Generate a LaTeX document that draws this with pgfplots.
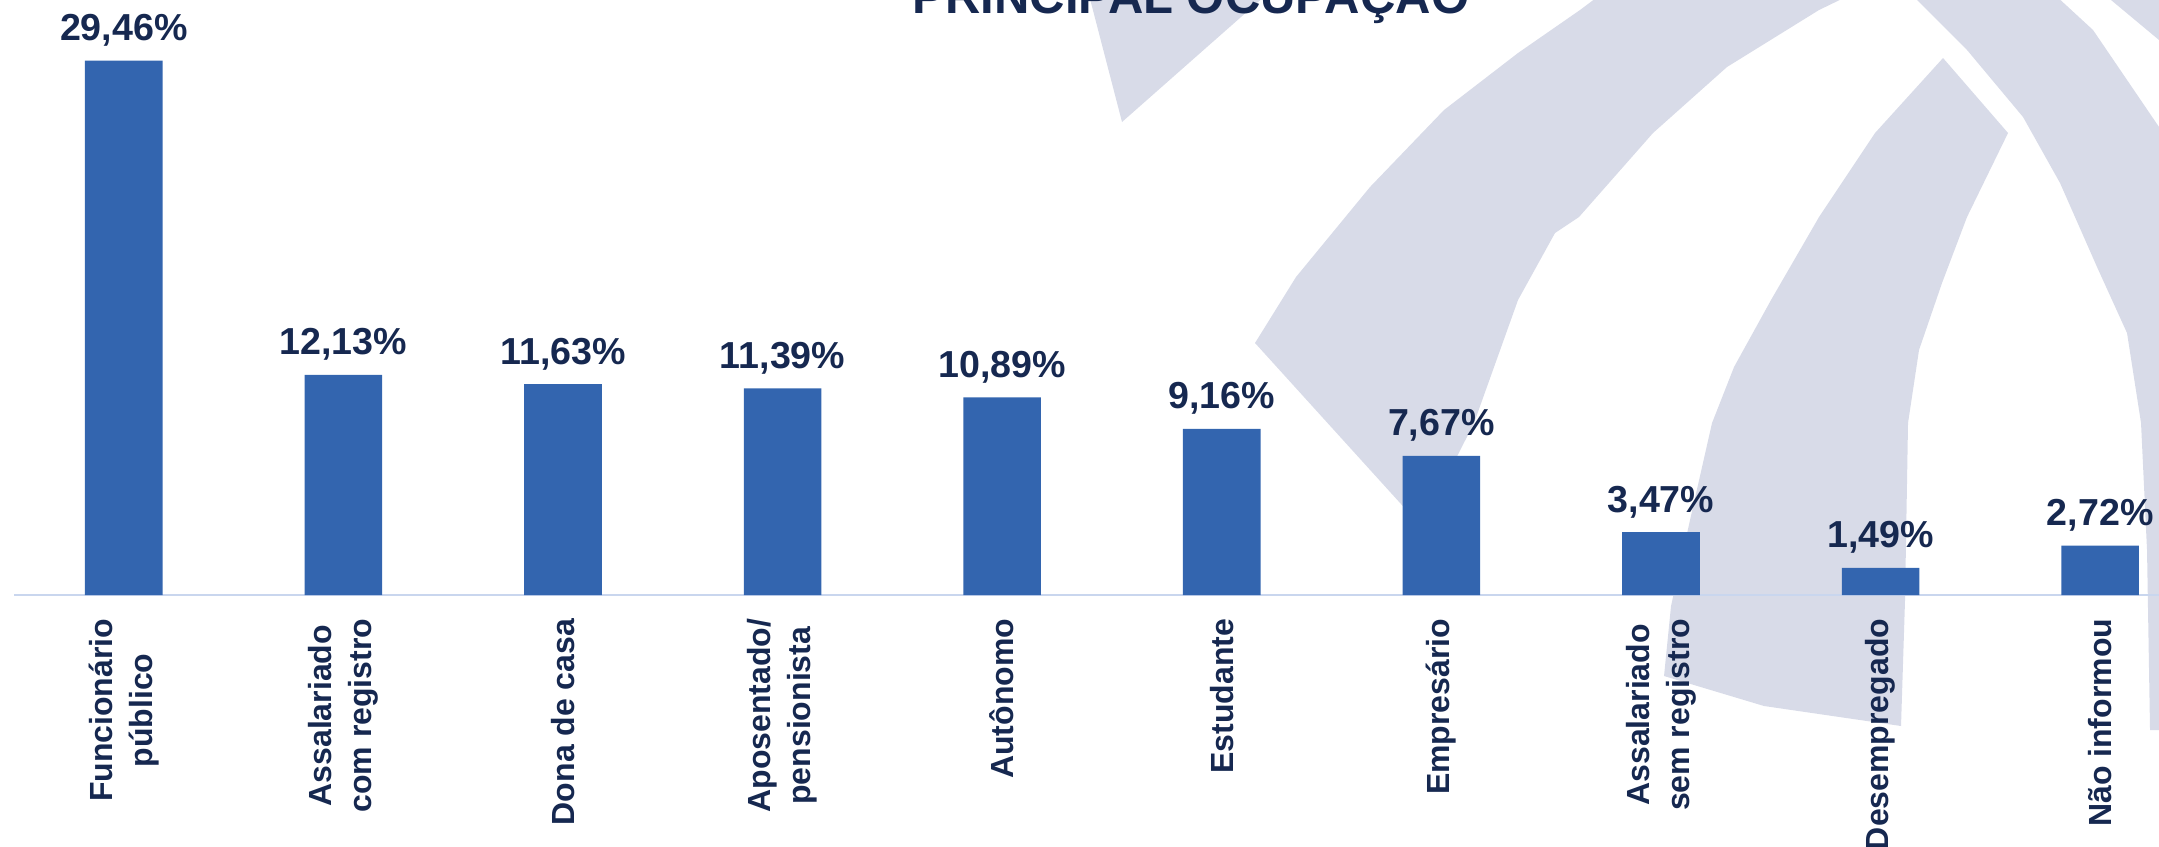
\documentclass[border=0pt]{standalone}
\usepackage{pgfplots}
\pgfplotsset{compat=1.18}
\usepackage{fontspec}
\setmainfont{Liberation Sans}

\definecolor{barblue}{RGB}{51,101,175}
\definecolor{navy}{RGB}{22,40,80}
\definecolor{axisblue}{RGB}{201,214,238}
\definecolor{wm}{RGB}{216,219,232}

\begin{document}
\begin{tikzpicture}
% picture frame: 2159 x 846 px, 1 px = 0.25pt
\useasboundingbox (0,0) rectangle (539.75pt,-211.5pt);
\clip (0,0) rectangle (539.75pt,-211.5pt);

% watermark arcs in the background (pixel coordinates, y downwards)
\begin{scope}[x=0.25pt,y=-0.25pt]
  \fill[wm] (1089,-5) -- (1122,122) -- (1207,47) -- (1266,-5) -- cycle;
  \fill[wm] (1255,343) -- (1296,277) -- (1370,187) -- (1444,110) -- (1518,53)
    -- (1580,10) -- (1600,-5) -- (1850,-5) -- (1819,10) -- (1727,67) -- (1653,133)
    -- (1579,217) -- (1555,233) -- (1518,300) -- (1474,423) -- (1445,480)
    -- (1420,525) -- cycle;
  \fill[wm] (1943,58) -- (1875,133) -- (1819,217) -- (1771,300) -- (1734,367)
    -- (1712,423) -- (1690,520) -- (1671,606) -- (1664,676) -- (1764,706)
    -- (1901,726) -- (1905,600) -- (1908,423) -- (1919,350) -- (1942,283)
    -- (1967,217) -- (2008,133) -- cycle;
  \fill[wm] (1912,-5) -- (1967,50) -- (2023,117) -- (2060,183) -- (2097,267)
    -- (2127,333) -- (2141,423) -- (2147,550) -- (2150,730) -- (2165,730)
    -- (2165,127) -- (2159,127) -- (2093,30) -- (2055,-5) -- cycle;
  \fill[wm] (2105,-5) -- (2165,-5) -- (2165,45) -- cycle;
  \node[anchor=base, inner sep=0, text=navy,
        font=\fontsize{12.25}{14}\selectfont\bfseries] at (1191,13) {PRINCIPAL OCUPAÇÃO};
\end{scope}

\begin{axis}[
  at={(3.5pt,-148.75pt)}, anchor=south west,
  scale only axis,
  width=536.25pt, height=136.05pt,
  ybar, bar width=19.4pt,
  xmin=-0.5, xmax=9.268,
  ymin=0, ymax=30,
  enlargelimits=false,
  clip=false,
  axis x line*=bottom,
  axis y line=none,
  axis line style={draw=axisblue, line width=0.55pt},
  xtick={0,...,9},
  major tick length=0pt,
  xticklabels={{Funcionário\\público}, {Assalariado\\com registro}, {Dona de casa},
    {Aposentado/\\pensionista}, {Autônomo}, {Estudante}, {Empresário},
    {Assalariado\\sem registro}, {Desempregado}, {Não informou}},
  xticklabel shift=5.75pt,
  xticklabel style={rotate=90, anchor=east, align=center, inner sep=0pt,
    text=navy, font=\fontsize{8}{10}\selectfont\bfseries},
  nodes near coords={\pgfmathprintnumber[fixed,fixed zerofill,precision=2,use comma,assume math mode=true]{\pgfplotspointmeta}\%},
  nodes near coords style={anchor=base, yshift=5pt, inner sep=0pt, text=navy,
    font=\fontsize{9.4}{11}\selectfont\bfseries},
]
\addplot[fill=barblue, draw=none] coordinates {
  (0,29.46) (1,12.13) (2,11.63) (3,11.39) (4,10.89)
  (5,9.16) (6,7.67) (7,3.47) (8,1.49) (9,2.72)
};
\end{axis}
\end{tikzpicture}
\end{document}
